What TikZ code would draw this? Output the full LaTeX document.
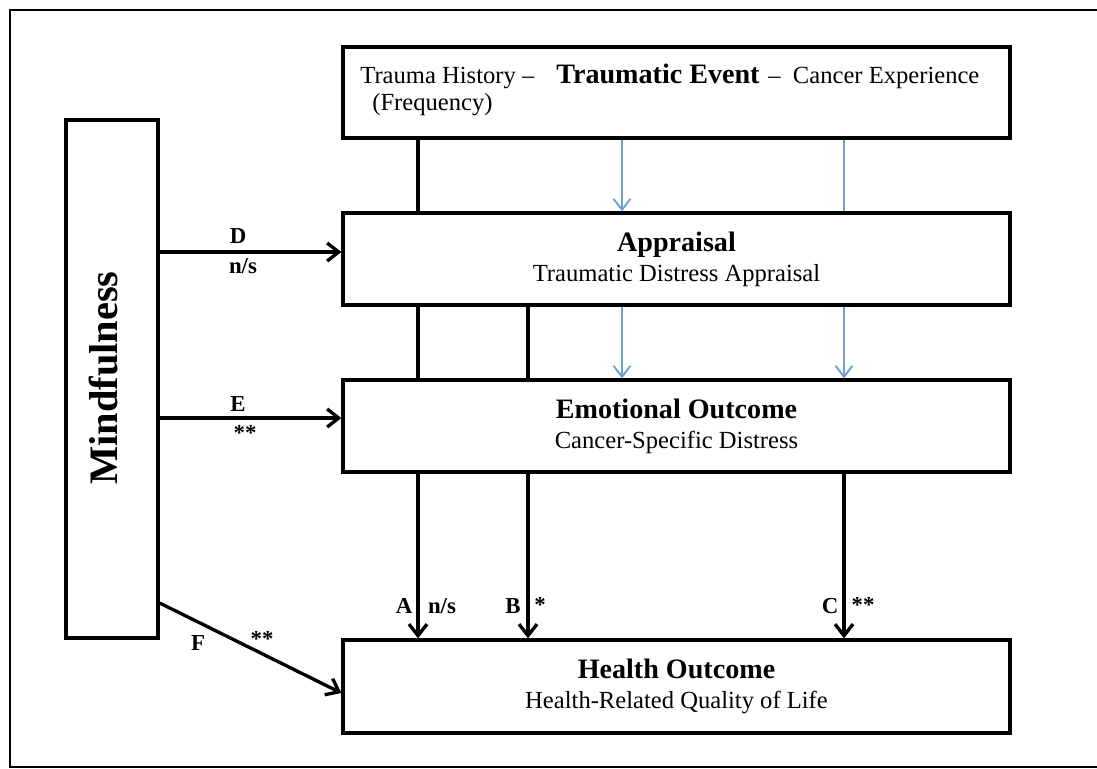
\documentclass[tikz,border=0pt]{standalone}
\usepackage{fontspec}
\setmainfont{Liberation Serif}
\usetikzlibrary{arrows.meta}
\definecolor{pathblue}{RGB}{110,160,215}
\tikzset{
  stagebox/.style={draw, line width=1.9pt, minimum width=13.34cm, minimum height=1.84cm,
    inner sep=0pt, align=center, font=\fontsize{14}{17}\selectfont},
  pathlab/.style={inner sep=0pt, font=\fontsize{13}{15}\selectfont\bfseries},
  solidarr/.style={line width=1.9pt, -{Straight Barb[length=2.3mm,width=3.6mm]}},
  bluearr/.style={pathblue, line width=1.1pt, -{Straight Barb[length=2.2mm,width=3.4mm]}},
}
\newcommand*\headline[1]{{\fontsize{16}{17}\selectfont\bfseries #1}}
\begin{document}
\begin{tikzpicture}[x=0.02cm, y=-0.02cm]
\useasboundingbox (0,0) rectangle (1097,768);
\draw[line width=1.6pt] (1097,10) -- (10,10) -- (10,767) -- (1097,767);
\node[stagebox, minimum height=1.82cm] (trauma) at (676.5,92.5) {};
\node[stagebox] (appr) at (676.5,259) {\headline{Appraisal}\\Traumatic Distress Appraisal};
\node[stagebox] (emo) at (676.5,426) {\headline{Emotional Outcome}\\Cancer-Specific Distress};
\node[stagebox, minimum height=1.86cm] (health) at (676.5,686.5) {\headline{Health Outcome}\\Health-Related Quality of Life};
\node[draw, line width=1.9pt, minimum width=1.84cm, minimum height=10.36cm, inner sep=0pt] (mind) at (112,379) {};
\node[rotate=90, font=\fontsize{23}{25}\selectfont\bfseries] (mindtxt) at (104,378) {Mindfulness};
\begin{scope}[every node/.style={inner sep=0pt, anchor=base west, font=\fontsize{14}{17}\selectfont}]
  \node (hist) at (360,83) {Trauma History --};
  \node (event) at (556,83) {\headline{Traumatic Event}};
  \node (cancer) at (768,83) {-- \ Cancer Experience};
  \node (freq) at (372,110) {(Frequency)};
\end{scope}
\coordinate (colA) at (418,0);
\coordinate (colB) at (528,0);
\coordinate (colM) at (622,0);
\coordinate (colC) at (844,0);
\coordinate (rowD) at (0,252);
\coordinate (rowE) at (0,418);
\coordinate (rowF) at (0,603);
\coordinate (rowH) at (0,693);
\draw[line width=1.9pt] (colA |- trauma.south) -- (colA |- appr.north);
\draw[line width=1.9pt] (colA |- appr.south) -- (colA |- emo.north);
\draw[line width=1.9pt] (colB |- appr.south) -- (colB |- emo.north);
\draw[bluearr] (colM |- trauma.south) -- (colM |- appr.north);
\draw[pathblue, line width=1.1pt] (colC |- trauma.south) -- (colC |- appr.north);
\draw[bluearr] (colM |- appr.south) -- (colM |- emo.north);
\draw[bluearr] (colC |- appr.south) -- (colC |- emo.north);
\draw[solidarr] (colA |- emo.south) -- (colA |- health.north);
\draw[solidarr] (colB |- emo.south) -- (colB |- health.north);
\draw[solidarr] (colC |- emo.south) -- (colC |- health.north);
\draw[solidarr] (mind.east |- rowD) -- (appr.west |- rowD);
\draw[solidarr] (mind.east |- rowE) -- (emo.west |- rowE);
\draw[solidarr] (mind.east |- rowF) -- (health.west |- rowH);
\node[pathlab] (labD) at (238,236) {D};
\node[pathlab] (sigD) at (243,266) {n/s};
\node[pathlab] (labE) at (238,404) {E};
\node[pathlab] (sigE) at (245,433) {**};
\node[pathlab] (labF) at (198,643) {F};
\node[pathlab] (sigF) at (262,639) {**};
\node[pathlab] (labA) at (404,606) {A};
\node[pathlab] (sigA) at (442,606) {n/s};
\node[pathlab] (labB) at (513,606) {B};
\node[pathlab] (sigB) at (540,605) {*};
\node[pathlab] (labC) at (830,606) {C};
\node[pathlab] (sigC) at (863,605) {**};
\end{tikzpicture}
\end{document}
